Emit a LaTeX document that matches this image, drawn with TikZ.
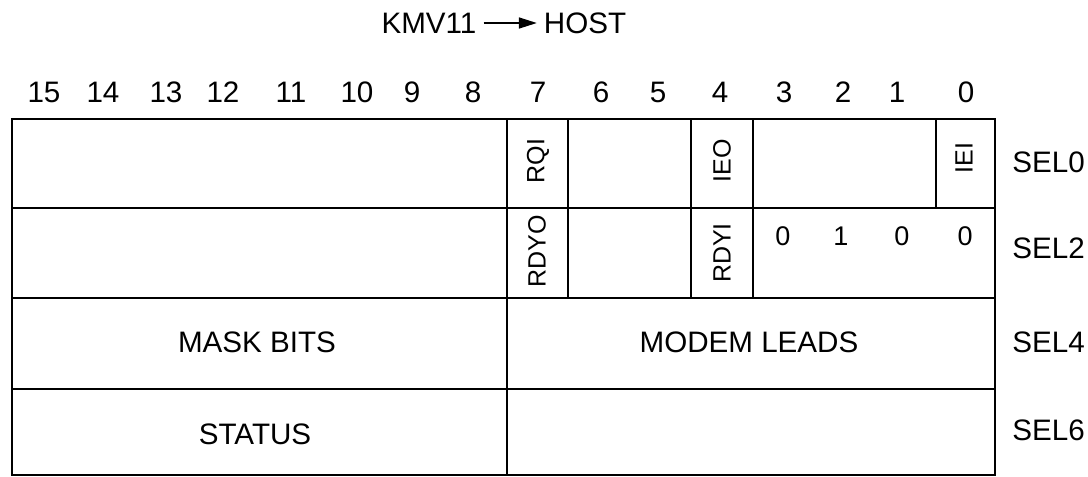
\documentclass[tikz,border=0pt]{standalone}
\usepackage{fontspec}
\setmainfont{Liberation Sans}
\usetikzlibrary{arrows.meta}

\begin{document}
\begin{tikzpicture}[x=0.5pt,y=-0.5pt,
    lbl/.style={font=\fontsize{14.8}{17}\selectfont},
    vlbl/.style={font=\fontsize{12.5}{15}\selectfont, rotate=90},
    sel/.style={font=\fontsize{14.8}{17}\selectfont, anchor=west, inner sep=0pt},
    cell/.style={line width=1.3pt}]
    \useasboundingbox[fill=white] (0,0) rectangle (1088,477);

    % heading
    \node[lbl] (kmv) at (429,23) {KMV11};
    \node[lbl] (host) at (585,23) {HOST};
    \draw[line width=0.8pt,-{Triangle[length=9pt,width=5.5pt]}] (kmv) -- (host);

    % bit numbers
    \foreach \b/\x in {15/44,14/103,13/166,12/223,11/291,10/357,9/412,8/473,
                       7/538,6/601,5/658,4/720,3/784,2/843,1/897,0/966}
        \node[lbl] (bit\b) at (\x,92) {\b};

    % register frame
    \draw[cell] (12,119) rectangle (995,475);
    \draw[cell] (12,208) -- (995,208);
    \draw[cell] (12,298) -- (995,298);
    \draw[cell] (12,389) -- (995,389);
    \draw[cell] (507,119) -- (507,475);
    \foreach \x in {568,691,753}
        \draw[cell] (\x,119) -- (\x,298);
    \draw[cell] (936,119) -- (936,208);

    % SEL0 / SEL2 flags
    \node[vlbl] (rqi) at (538,161) {RQI};
    \node[vlbl] (ieo) at (722,161) {IEO};
    \node[vlbl] (iei) at (964,158) {IEI};
    \node[vlbl] (rdyo) at (537,251) {RDYO};
    \node[vlbl] (rdyi) at (722,253) {RDYI};
    \foreach \v/\x [count=\i] in {0/783,1/841,0/902,0/965}
        \node[font=\fontsize{13.5}{16}\selectfont] (code\i) at (\x,236) {\v};

    % wide fields
    \node[lbl] (mask) at (257,342) {MASK BITS};
    \node[lbl] (modem) at (749,342) {MODEM LEADS};
    \node[lbl] (status) at (255,434) {STATUS};

    % register names
    \node[sel] (sel0) at (1012,162) {SEL0};
    \node[sel] (sel2) at (1012,248) {SEL2};
    \node[sel] (sel4) at (1012,342) {SEL4};
    \node[sel] (sel6) at (1012,430) {SEL6};
\end{tikzpicture}
\end{document}
